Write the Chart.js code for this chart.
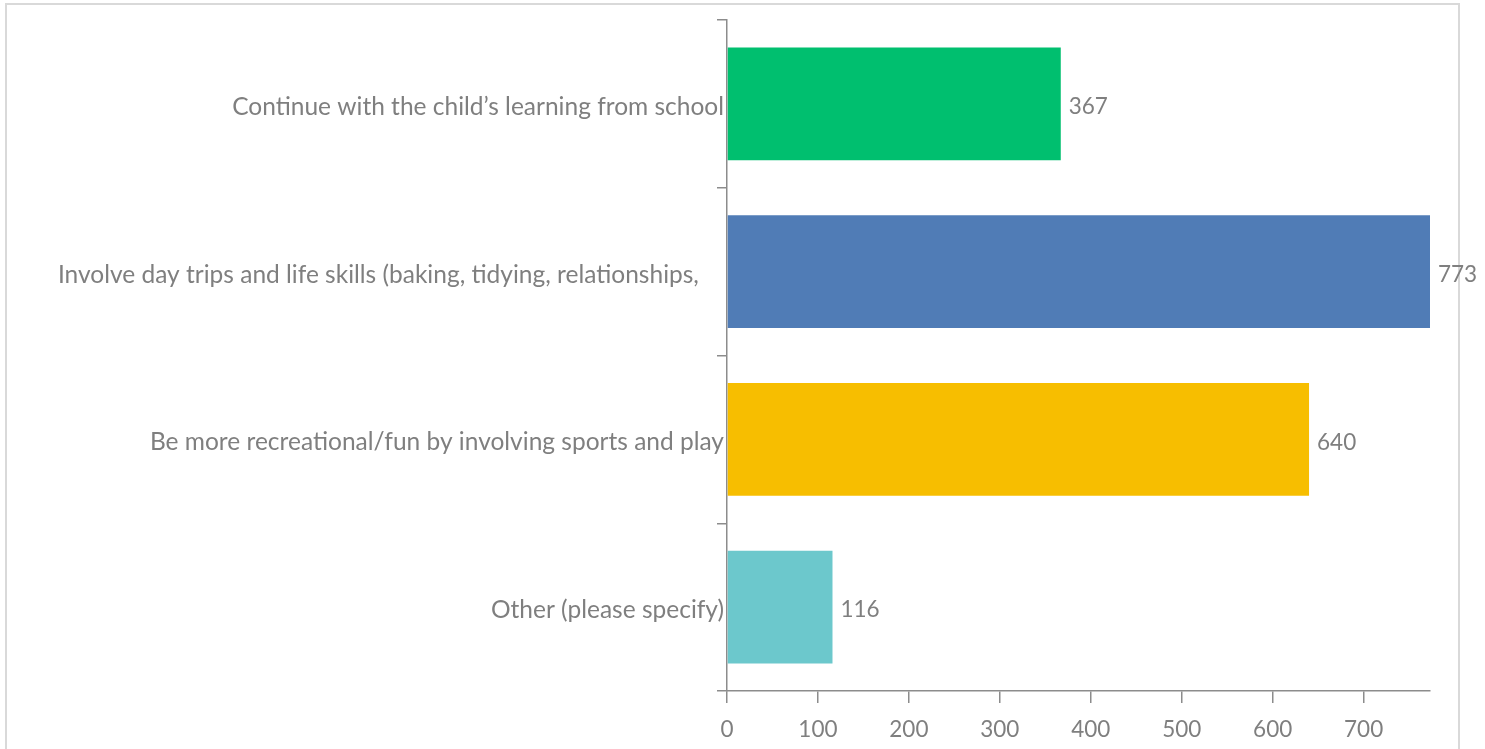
<!DOCTYPE html>
<html>
<head>
<meta charset="utf-8">
<style>
  html, body { margin: 0; padding: 0; background: #ffffff; }
  #wrap { width: 1485px; height: 749px; position: relative; }
  canvas { display: block; }
</style>
<script src="https://cdn.jsdelivr.net/npm/chart.js@4/dist/chart.umd.min.js"></script>
</head>
<body>
<div id="wrap"><canvas id="chart" width="1485" height="749"></canvas></div>
<script>
// Survey responses: what the holiday provision should do
const categories = [
  "Continue with the child\u2019s learning from school",
  "Involve day trips and life skills (baking, tidying, relationships,    ",
  "Be more recreational/fun by involving sports and play",
  "Other (please specify)"
];
const responses = [367, 773, 640, 116];
const barColors = ["#00BF6F", "#507CB6", "#F7BE00", "#6CC8CC"];
const xTickStep = 100;
const xMax = 773;

const textColor = "#7f7f7f";
const axisColor = "#8c8c8c";
const fontFamily = "Lato, 'Open Sans', sans-serif";
const labelSize = 24.5;
const numberSize = 22.5;

// outer frame around the plot
const framePlugin = {
  id: "frame",
  beforeDraw(chart) {
    const ctx = chart.ctx;
    ctx.save();
    ctx.strokeStyle = "#d9d9d9";
    ctx.lineWidth = 2;
    ctx.strokeRect(6, 4, 1453, 800);
    ctx.restore();
  }
};

// value printed just past the end of each bar
const valueLabels = {
  id: "valueLabels",
  afterDatasetsDraw(chart) {
    const ctx = chart.ctx;
    const meta = chart.getDatasetMeta(0);
    const data = chart.data.datasets[0].data;
    ctx.save();
    ctx.fillStyle = textColor;
    ctx.font = numberSize + "px " + fontFamily;
    ctx.textAlign = "left";
    ctx.textBaseline = "middle";
    meta.data.forEach((bar, i) => {
      ctx.fillText(String(data[i]), bar.x + 8, bar.y + 3);
    });
    ctx.restore();
  }
};

new Chart(document.getElementById("chart"), {
  type: "bar",
  data: {
    labels: categories,
    datasets: [{
      data: responses,
      backgroundColor: barColors,
      borderWidth: 0,
      categoryPercentage: 0.673,
      barPercentage: 1.0
    }]
  },
  options: {
    indexAxis: "y",
    responsive: false,
    animation: false,
    layout: { padding: { top: 20, right: 55, bottom: 0, left: 0 } },
    plugins: {
      legend: { display: false },
      tooltip: { enabled: false }
    },
    scales: {
      x: {
        min: 0,
        max: xMax,
        afterFit(scale) { scale.height = 58; },
        afterBuildTicks(scale) {
          const t = [];
          for (let v = 0; v <= xMax; v += xTickStep) t.push({ value: v });
          scale.ticks = t;
        },
        border: { display: true, color: axisColor, width: 1.5 },
        grid: {
          display: true,
          drawOnChartArea: false,
          drawTicks: true,
          tickLength: 12,
          color: axisColor,
          lineWidth: 1.5
        },
        ticks: {
          color: textColor,
          font: { family: fontFamily, size: numberSize },
          padding: 13,
          maxRotation: 0,
          autoSkip: false
        }
      },
      y: {
        afterFit(scale) { scale.width = 727; },
        border: { display: true, color: axisColor, width: 1.5 },
        grid: {
          display: true,
          offset: true,
          drawOnChartArea: false,
          drawTicks: true,
          tickLength: 10,
          color: axisColor,
          lineWidth: 1.5
        },
        ticks: {
          color: textColor,
          font: { family: fontFamily, size: labelSize },
          padding: -7,
          labelOffset: 3,
          autoSkip: false
        }
      }
    }
  },
  plugins: [framePlugin, valueLabels]
});
</script>
</body>
</html>
